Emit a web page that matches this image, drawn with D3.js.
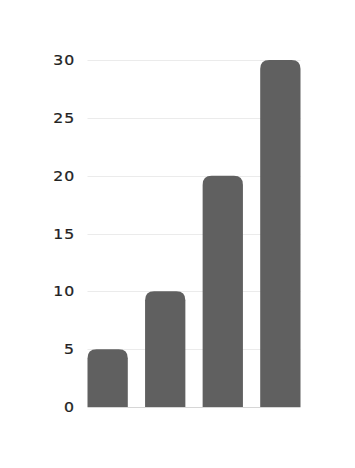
<!DOCTYPE html>
<html><head><meta charset="utf-8">
<script src="https://cdn.jsdelivr.net/npm/d3@7"></script>
<style>html,body{margin:0;padding:0;background:#fff;}</style>
</head><body>
<svg id="c" width="355" height="468"></svg>
<script>
const categories = ["A", "B", "C", "D"];
const values = [5, 10, 20, 30];
const yTicks = [0, 5, 10, 15, 20, 25, 30];

const svg = d3.select("#c");
const x = d3.scaleBand().domain(categories).range([87.5, 300.5]).paddingInner(0.3).paddingOuter(0);
const y = d3.scaleLinear().domain([0, 30]).range([407, 60]);

const grid = svg.append("g");
grid.selectAll("line").data(yTicks).join("line")
  .attr("x1", 87.5).attr("x2", 300.5)
  .attr("y1", d => Math.round(y(d)) + 0.5).attr("y2", d => Math.round(y(d)) + 0.5)
  .attr("stroke", d => d === 0 ? "#d6d6d6" : "#ebebeb").attr("stroke-width", 1);

svg.append("g").selectAll("text").data(yTicks).join("text")
  .attr("transform", d => `translate(75,${y(d)}) scale(1.12,1)`)
  .attr("dy", "0.36em")
  .attr("text-anchor", "end")
  .attr("font-family", "DejaVu Sans, sans-serif")
  .attr("font-size", 14)
  .attr("letter-spacing", 0.8)
  .attr("fill", "#222")
  .attr("stroke", "#222")
  .attr("stroke-width", 0.25)
  .text(d => d);

function topRounded(x0, y0, w, h, r) {
  r = Math.min(r, w / 2, h);
  return `M${x0},${y0 + h}V${y0 + r}Q${x0},${y0} ${x0 + r},${y0}H${x0 + w - r}Q${x0 + w},${y0} ${x0 + w},${y0 + r}V${y0 + h}Z`;
}

svg.append("g").selectAll("path").data(values).join("path")
  .attr("d", (d, i) => topRounded(x(categories[i]), y(d), x.bandwidth(), y(0) - y(d), 9))
  .attr("fill", "#606060");
</script>
</body></html>
